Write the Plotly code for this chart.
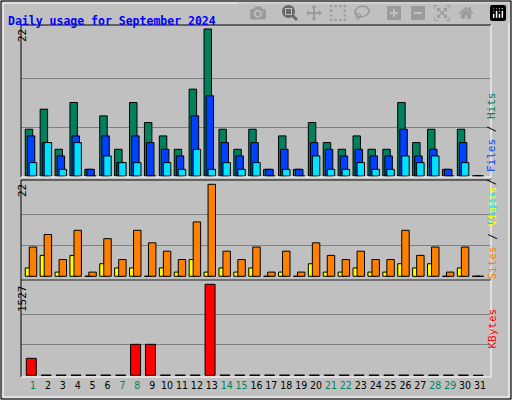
import plotly.graph_objects as go

days = list(range(1, 32))
hits  = [7,10,4,11,1,9,4,11,8,6,4,13,22,7,4,7,1,6,1,8,5,4,6,4,4,11,5,7,1,7,0]
files = [6,5,3,6,1,6,2,6,5,4,3,9,12,5,3,5,1,4,1,5,4,3,4,3,3,7,3,4,1,5,0]
pages = [2,5,1,5,0,3,2,2,0,2,1,4,1,2,1,2,0,1,0,3,1,1,2,1,1,3,2,3,0,2,0]
sites = [2,5,1,5,0,3,2,2,0,2,1,4,1,2,1,2,0,1,0,3,1,1,2,1,1,3,2,3,0,2,0]
visits= [7,10,4,11,1,9,4,11,8,6,4,13,22,6,4,7,1,6,1,8,5,4,6,4,4,11,5,7,1,7,0]
kbytes= [285,4,4,4,4,4,4,520,520,4,4,4,1527,4,4,4,4,4,4,4,4,4,4,4,4,4,4,4,4,4,0]
weekend = {1,7,8,14,15,21,22,28,29}
max_top, max_mid, max_kb = 22, 22, 1527

fig = go.Figure()
ln = dict(color="black", width=1)
def bar(y, color, off, w, ax):
    fig.add_trace(go.Bar(x=days, y=y, offset=off, width=w, marker=dict(color=color, line=ln),
                         xaxis="x", yaxis=ax, showlegend=False, hoverinfo="skip"))
bar(hits, "#00805C", -0.52, 0.5, "y")
bar(files, "#0040FF", -0.38, 0.5, "y")
bar(pages, "#00E0FF", -0.25, 0.5, "y")
bar(sites, "#FFFF00", -0.52, 0.5, "y2")
bar(visits, "#FF8000", -0.25, 0.5, "y2")
bar(kbytes, "#FF0000", -0.45, 0.67, "y3")

ticktext = [f'<span style="color:{"#00805C" if d in weekend else "black"}">{d}</span>' for d in days]
grid = dict(showgrid=True, gridcolor="#808080", gridwidth=1, zeroline=False, showticklabels=False, ticks="", showline=False)
fig.update_layout(
    width=512, height=400, margin=dict(l=0, r=0, t=0, b=0),
    paper_bgcolor="#C0C0C0", plot_bgcolor="#C0C0C0", barmode="overlay",
    font=dict(family="DejaVu Sans Mono", size=11, color="black"),
    xaxis=dict(domain=[21/512, 491/512], range=[0.195, 31.74], tickvals=days, ticktext=ticktext,
               tickangle=0, showgrid=False, zeroline=False, ticks="", anchor="y3",
               tickfont=dict(size=10.5, family="DejaVu Sans Condensed")),
    yaxis=dict(domain=[0.5575, 0.9375], range=[-0.15, 22.6], tickvals=[max_top/3, 2*max_top/3], **grid),
    yaxis2=dict(domain=[0.3, 0.55], range=[-0.89, 23.03], tickvals=[max_mid/3, 2*max_mid/3], **grid),
    yaxis3=dict(domain=[0.0575, 0.3], range=[-28, 1599], tickvals=[max_kb/3, 2*max_kb/3], **grid),
)
for y0, y1 in [(0.5575, 0.9375), (0.3, 0.55), (0.0575, 0.3)]:
    fig.add_shape(type="line", xref="paper", yref="paper", x0=21/512, x1=491/512, y0=y1, y1=y1, line=dict(color="black", width=1))
    fig.add_shape(type="line", xref="paper", yref="paper", x0=21/512, x1=21/512, y0=y0, y1=y1, line=dict(color="black", width=1))
    fig.add_shape(type="line", xref="paper", yref="paper", x0=21/512, x1=491/512, y0=y0, y1=y0, line=dict(color="white", width=1))
    fig.add_shape(type="line", xref="paper", yref="paper", x0=491/512, x1=491/512, y0=y0, y1=y1, line=dict(color="white", width=1))
fig.add_shape(type="rect", xref="paper", yref="paper", x0=0.002, x1=0.998, y0=0.0025, y1=0.9975, line=dict(color="black", width=1))
fig.add_shape(type="rect", xref="paper", yref="paper", x0=0.006, x1=0.994, y0=0.0075, y1=0.9925, line=dict(color="white", width=1))

def ann(x, y, text, angle=0, size=11, **kw):
    fig.add_annotation(xref="paper", yref="paper", x=x/512, y=1-y/400, text=text, showarrow=False,
                       textangle=angle, font=dict(size=size), **kw)
ann(6, 12, '<b><span style="color:#0000FF">Daily usage for September 2024</span></b>', xanchor="left", size=11.5)
ann(14, 27, str(max_top), -90, yanchor="top")
ann(14, 182, str(max_mid), -90, yanchor="top")
ann(14, 283, str(max_kb), -90, yanchor="top")
ann(500, 90, '<span style="color:#00E0FF">Pages</span> / <span style="color:#0040FF">Files</span> / <span style="color:#00805C">Hits</span>', -90)
ann(500, 233, '<span style="color:#FF8000">Sites</span> / <span style="color:#FFFF00">Visits</span>', -90)
ann(500, 351, '<span style="color:#FF0000">KBytes</span>', -90)

fig.write_html("out.html", post_script="document.body.style.margin='0';document.body.style.overflow='hidden';")
